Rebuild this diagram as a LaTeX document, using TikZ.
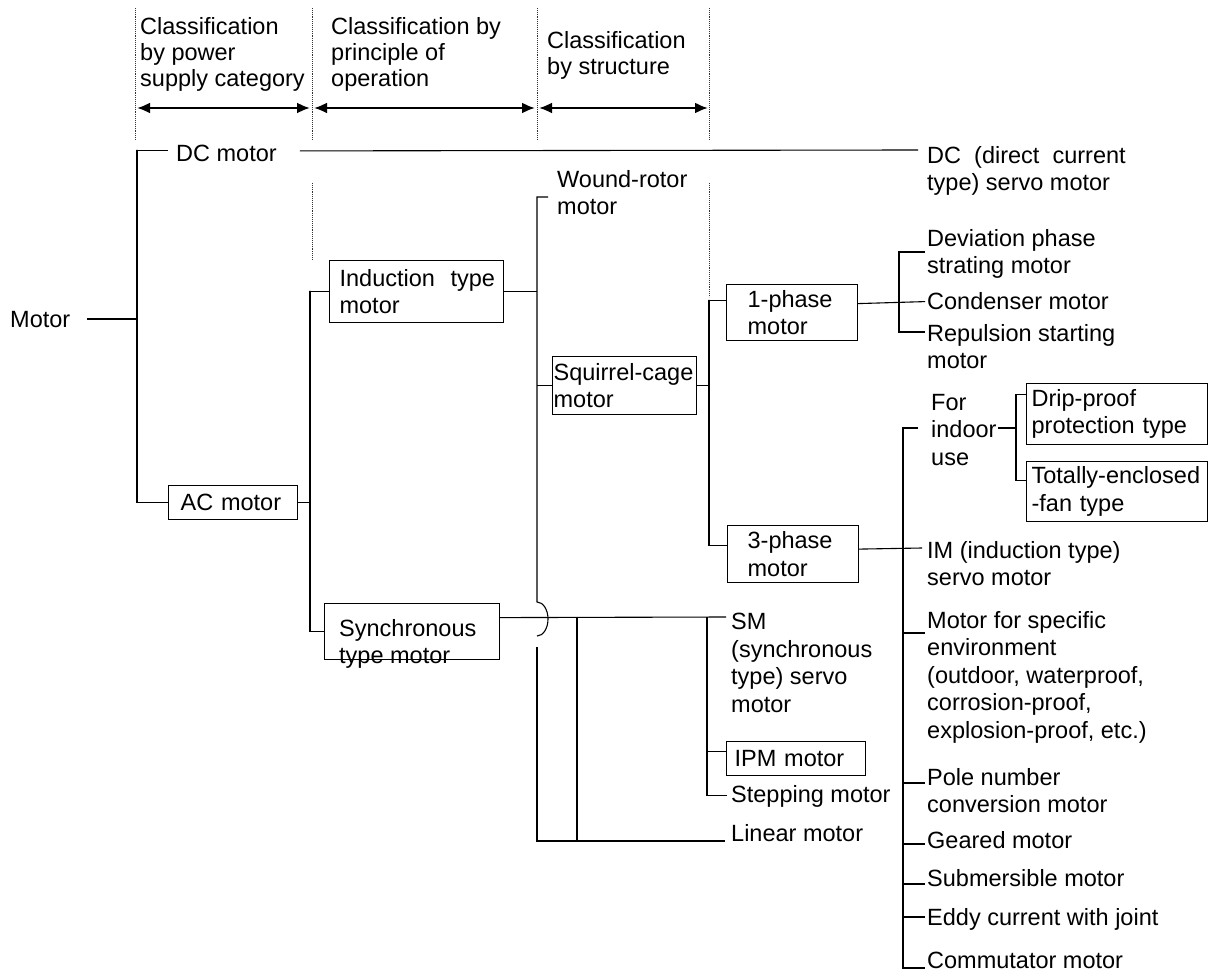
\documentclass[tikz,border=0pt]{standalone}
\usepackage{fontspec}
\setmainfont{Liberation Sans}
\usetikzlibrary{arrows.meta,calc}

\begin{document}
\begin{tikzpicture}[x=1pt, y=-1pt,
    txt/.style={inner sep=0pt, align=left, font=\fontsize{23.5}{27.5}\selectfont},
    hdr/.style={txt, anchor=north west, font=\fontsize{23.5}{26}\selectfont},
    box/.style={draw, line width=1.2pt, inner ysep=0pt, align=left, anchor=north west, font=\fontsize{23.5}{27.5}\selectfont},
    link/.style={line width=1.1pt},
    guide/.style={densely dotted, line width=0.9pt, black!80},
    dimline/.style={{Latex[length=13pt,width=11pt]}-{Latex[length=13pt,width=11pt]}, line width=2.2pt}]

        \useasboundingbox (0,0) rectangle (1217,973);

        % Columnas
        \foreach \x in {135,312,537,709}
            \draw[guide] (\x,8) -- (\x,140);
        \draw[guide] (312,183) -- (312,260);
        \draw[guide] (709,183) -- (709,297);
        \foreach \a/\b in {137/310, 314/535, 539/708}
            \draw[dimline] (\a,108) -- (\b,108);

        \node[hdr] (hpower) at (140,17) {Classification\\by power\\supply category};
        \node[hdr] (hprinciple) at (331,17) {Classification by\\principle of\\operation};
        \node[hdr] (hstructure) at (547,31) {Classification\\by structure};

        % Motor
        \node[txt, anchor=base west] (motor) at (10,327) {Motor};

        % DC
        \node[txt, anchor=base west] (dc) at (176,162) {DC motor};
        \node[txt, anchor=north west] (dcservo) at (927,146) {DC\ \ (direct\ \ current\\type) servo motor};

        % AC
        \node[box, minimum height=34pt, text width=105pt, inner xsep=12pt] (ac) at (168,485) {AC motor};
        \node[box, minimum height=62pt, text width=154pt, inner xsep=10pt] (ind) at (329,260) {Induction~~type\\motor};
        \node[box, minimum width=175pt, minimum height=56pt, inner sep=0pt] (syncbox) at (324,603) {};
        \node[txt, anchor=north west] (synctext) at (339,619) {Synchronous\\type motor};

        % Induccion
        \node[txt, anchor=north west] (wound) at (557,170) {Wound-rotor\\motor};
        \node[box, minimum height=58pt, text width=142pt, inner xsep=1pt] (squ) at (552,356) {Squirrel-cage\\motor};
        \node[box, minimum height=56pt, text width=89pt, inner xsep=21pt] (ph1) at (726,284) {1-phase\\motor};
        \node[box, minimum height=57pt, text width=91pt, inner xsep=20pt] (ph3) at (727,525) {3-phase\\motor};

        % Monofasico
        \node[txt, anchor=north west] (deviation) at (927,229) {Deviation phase\\strating motor};
        \node[txt, anchor=base west] (condenser) at (927,310) {Condenser motor};
        \node[txt, anchor=north west] (repulsion) at (927,324) {Repulsion starting\\motor};

        % Trifasico
        \node[txt, anchor=north west] (indoor) at (931,394) {For\\indoor\\use};
        \node[box, minimum height=61pt, text width=171pt, inner xsep=5pt] (drip) at (1026,383) {Drip-proof\\protection type};
        \node[box, minimum height=60pt, text width=171pt, inner xsep=5pt] (tot) at (1026,461) {Totally-enclosed\\-fan type};
        \node[txt, anchor=north west] (im) at (927,541) {IM (induction type)\\servo motor};
        \node[txt, anchor=north west] (envmotor) at (927,611) {Motor for specific\\environment\\(outdoor, waterproof,\\corrosion-proof,\\explosion-proof, etc.)};
        \node[txt, anchor=north west] (pole) at (927,768) {Pole number\\conversion motor};
        \node[txt, anchor=base west] (geared) at (927,848) {Geared motor};
        \node[txt, anchor=base west] (submersible) at (927,886) {Submersible motor};
        \node[txt, anchor=base west] (eddy) at (927,925) {Eddy current with joint};
        \node[txt, anchor=base west] (commutator) at (927,968) {Commutator motor};

        % Sincrono
        \node[txt, anchor=north west] (sm) at (731,613) {SM\\(synchronous\\type) servo\\motor};
        \node[box, minimum height=34pt, text width=123pt, inner xsep=8pt] (ipm) at (726,741) {IPM motor};
        \node[txt, anchor=base west] (stepping) at (731,802) {Stepping motor};
        \node[txt, anchor=base west] (linear) at (731,841) {Linear motor};

        % Ramas
        \coordinate (s1) at (137,150);
        \coordinate (s2) at (310,291);
        \coordinate (s3) at (537,197);
        \coordinate (jump) at (537,619);
        \coordinate (s4) at (577,617);
        \coordinate (s5) at (707,617);
        \coordinate (s6) at (709,300);
        \coordinate (s7) at (899,252);
        \coordinate (s8) at (903,428);
        \coordinate (s9) at (1016,428);

        \draw[link] ([xshift=17pt]motor.east) -- (motor.east -| s1);
        \draw[link] ([xshift=-8pt,yshift=3pt]dc.west) -| (s1) |- (ac.west);
        \draw[link] ([xshift=23pt,yshift=3pt]dc.east) -- ($(dcservo.north west)+(-9,4)$);

        \draw[link] (ac.east) -- (ac.east -| s2);
        \draw[link] (ind.west) -| (s2) |- (syncbox.west);

        \draw[link] (ind.east) -- (ind.east -| s3);
        \draw[link] ($(wound.north west)+(-9,27)$) -| ([yshift=17pt]jump)
            arc[start angle=90, end angle=-90, x radius=11pt, y radius=17pt];
        \draw[link] ([yshift=-28pt]jump) |- ([xshift=-6pt]linear.base west);
        \draw[link] (squ.west) -- (squ.west -| s3);

        \draw[link] (squ.east) -- (squ.east -| s6);
        \draw[link] ([yshift=12pt]ph1.west) -| (s6) |- ([yshift=9pt]ph3.west);

        \draw[link] ([yshift=9pt]ph1.east) -- ([xshift=-2pt]condenser.west);
        \draw[link] ($(deviation.north west)+(-2,23)$) -| (s7) |- ($(repulsion.north west)+(-2,8)$);

        \draw[link] ([yshift=5pt]ph3.east) -- ($(im.north west)+(-5,7)$);
        \draw[link] ($(indoor.north west)+(-13,34)$) -| (s8) |- ([xshift=-2pt]commutator.base west);
        \foreach \n/\a/\dy in {envmotor/north west/22, pole/north west/15, geared/base west/-4,
                submersible/base west/-2, eddy/base west/-8}{
            \path ($(\n.\a)+(-2,\dy)$) coordinate (t);
            \draw[link] (t) -- (t -| s8);
        }
        \path ($(indoor.north west)+(67,34)$) coordinate (t);
        \draw[link] (t) -- (s9);
        \draw[link] ([yshift=20pt]drip.west) -| (s9) |- ([yshift=11pt]tot.west);

        \draw[link] ([yshift=14pt]syncbox.east) -- ($(sm.north west)+(-5,4)$);
        \draw[link] (s4) -- (s4 |- linear.base west);
        \draw[link] (s5) |- ([xshift=-4pt]stepping.west);
        \draw[link] ([yshift=7pt]ipm.west) -- ([yshift=7pt]ipm.west -| s5);

\end{tikzpicture}
\end{document}
